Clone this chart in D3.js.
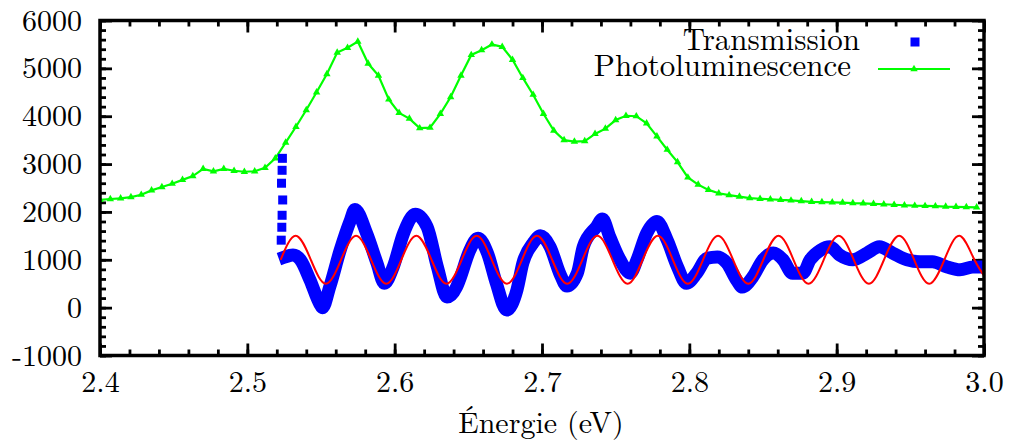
<!DOCTYPE html>
<html>
<head>
<meta charset="utf-8">
<script src="https://cdn.jsdelivr.net/npm/d3@7"></script>
<style>
  body { margin: 0; background: #fff; }
</style>
</head>
<body>
<svg id="chart" width="1011" height="443"></svg>
<script>
// photoluminescence (green), one value per marker
var plEnergy = [2.400, 2.407, 2.414, 2.421, 2.428, 2.435, 2.442, 2.449, 2.456, 2.463,
  2.470, 2.477, 2.484, 2.491, 2.498, 2.505, 2.512, 2.519, 2.526, 2.533,
  2.540, 2.547, 2.554, 2.561, 2.568, 2.575, 2.582, 2.589, 2.596, 2.603,
  2.610, 2.617, 2.624, 2.631, 2.638, 2.645, 2.652, 2.659, 2.666, 2.673,
  2.680, 2.687, 2.694, 2.701, 2.708, 2.715, 2.722, 2.729, 2.736, 2.743,
  2.750, 2.757, 2.764, 2.771, 2.778, 2.785, 2.792, 2.799, 2.806, 2.813,
  2.820, 2.827, 2.834, 2.841, 2.848, 2.855, 2.862, 2.869, 2.876, 2.883,
  2.890, 2.897, 2.904, 2.911, 2.918, 2.925, 2.932, 2.939, 2.946, 2.953,
  2.960, 2.967, 2.974, 2.981, 2.988, 2.995];
var plValue = [2250, 2270, 2285, 2310, 2360, 2450, 2520, 2590, 2670, 2750,
  2900, 2850, 2900, 2860, 2840, 2850, 2920, 3120, 3450, 3780,
  4130, 4500, 4880, 5330, 5430, 5560, 5100, 4850, 4350, 4070,
  3950, 3750, 3760, 4050, 4400, 4850, 5280, 5380, 5500, 5450,
  5180, 4800, 4450, 4050, 3700, 3500, 3470, 3480, 3630, 3740,
  3920, 4010, 4000, 3850, 3580, 3300, 3040, 2720, 2570, 2460,
  2390, 2350, 2320, 2290, 2275, 2265, 2250, 2240, 2225, 2210,
  2205, 2200, 2195, 2185, 2180, 2170, 2160, 2150, 2140, 2130,
  2125, 2120, 2110, 2105, 2100, 2095];

// transmission (blue): isolated squares at the edge, then the dense band
var transStartEnergy = [2.5238, 2.5236, 2.5232, 2.5240, 2.5236, 2.5234, 2.5230];
var transStartValue = [3120, 2870, 2600, 2250, 1930, 1680, 1410];
var transEnergy = [2.5256, 2.531, 2.536, 2.5425, 2.549, 2.551, 2.556, 2.563, 2.570, 2.573,
  2.581, 2.588, 2.593, 2.599, 2.606, 2.614, 2.622, 2.629, 2.6355, 2.642,
  2.644, 2.651, 2.6566, 2.663, 2.669, 2.676, 2.683, 2.687, 2.694, 2.699,
  2.7055, 2.712, 2.717, 2.724, 2.728, 2.737, 2.741, 2.746, 2.753, 2.760,
  2.7645, 2.771, 2.778, 2.785, 2.792, 2.798, 2.805, 2.812, 2.819, 2.8255,
  2.832, 2.836, 2.843, 2.850, 2.857, 2.8636, 2.870, 2.877, 2.882, 2.889,
  2.8955, 2.902, 2.911, 2.9206, 2.929, 2.938, 2.9477, 2.9566, 2.965, 2.975,
  2.9837, 2.9925, 2.9986];
var transValue = [1060, 1100, 1000, 580, 90, 0, 440, 1200, 1830, 2050,
  1550, 930, 510, 850, 1550, 1950, 1690, 850, 220, 430,
  580, 1200, 1450, 1140, 510, -50, 370, 930, 1350, 1500,
  1270, 720, 450, 720, 1270, 1690, 1850, 1480, 1000, 720,
  1000, 1550, 1800, 1410, 850, 510, 720, 1030, 1060, 930,
  580, 430, 640, 1000, 1140, 1000, 720, 720, 1000, 1200,
  1270, 1100, 1000, 1140, 1270, 1140, 1000, 960, 960, 850,
  790, 850, 850];

// fitted fringes (red), read at quarter periods
var fitEnergy = [2.5226, 2.5328, 2.5431, 2.5533, 2.5636, 2.5738, 2.5840, 2.5943, 2.6045, 2.6147,
  2.6250, 2.6352, 2.6455, 2.6557, 2.6659, 2.6762, 2.6864, 2.6966, 2.7069, 2.7171,
  2.7274, 2.7376, 2.7478, 2.7581, 2.7683, 2.7786, 2.7888, 2.7990, 2.8093, 2.8195,
  2.8297, 2.8400, 2.8502, 2.8605, 2.8707, 2.8809, 2.8912, 2.9014, 2.9116, 2.9219,
  2.9321, 2.9424, 2.9526, 2.9628, 2.9731, 2.9833, 2.9935, 3.0038];
var fitValue = [1000, 1500, 1000, 500, 1000, 1500, 1000, 500, 1000, 1500,
  1000, 500, 1000, 1500, 1000, 500, 1000, 1500, 1000, 500,
  1000, 1500, 1000, 500, 1000, 1500, 1000, 500, 1000, 1500,
  1000, 500, 1000, 1500, 1000, 500, 1000, 1500, 1000, 500,
  1000, 1500, 1000, 500, 1000, 1500, 1000, 500];

var xTicks = [2.4, 2.5, 2.6, 2.7, 2.8, 2.9, 3.0];
var yTicks = [-1000, 0, 1000, 2000, 3000, 4000, 5000, 6000];
var legendLabels = ["Transmission", "Photoluminescence"];
var xTitle = "Énergie (eV)";

var fontName = "Latin Modern Roman";
var pLeft = 100, pRight = 984, pTop = 20.5, pBottom = 355.5;
var svg = d3.select("#chart");

var x = d3.scaleLinear().domain([2.4, 3.0]).range([pLeft, pRight]);
var y = d3.scaleLinear().domain([-1000, 6000]).range([pBottom, pTop]);

svg.append("defs").append("clipPath").attr("id", "plot")
  .append("rect").attr("x", pLeft).attr("y", pTop)
  .attr("width", pRight - pLeft).attr("height", pBottom - pTop);

var xMinor = d3.range(2.4, 3.0001, 0.02);
var yMinor = d3.range(-1000, 6001, 200);

function styleAxis(g) {
  g.select(".domain").remove();
  g.selectAll("line").attr("stroke", "#000").attr("stroke-width", 2.8);
  g.selectAll("text").attr("fill", "#000")
    .style("font-family", fontName).style("font-size", "30px");
}

// minor ticks on all four sides
svg.append("g").attr("transform", "translate(0," + pBottom + ")")
  .call(d3.axisBottom(x).tickValues(xMinor).tickSize(-6).tickFormat("")).call(styleAxis);
svg.append("g").attr("transform", "translate(0," + pTop + ")")
  .call(d3.axisTop(x).tickValues(xMinor).tickSize(-6).tickFormat("")).call(styleAxis);
svg.append("g").attr("transform", "translate(" + pLeft + ",0)")
  .call(d3.axisLeft(y).tickValues(yMinor).tickSize(-6).tickFormat("")).call(styleAxis);
svg.append("g").attr("transform", "translate(" + pRight + ",0)")
  .call(d3.axisRight(y).tickValues(yMinor).tickSize(-6).tickFormat("")).call(styleAxis);

// major ticks + labels
svg.append("g").attr("transform", "translate(0," + pBottom + ")")
  .call(d3.axisBottom(x).tickValues(xTicks).tickSize(-12).tickPadding(15).tickFormat(d3.format(".1f")))
  .call(styleAxis);
svg.append("g").attr("transform", "translate(0," + pTop + ")")
  .call(d3.axisTop(x).tickValues(xTicks).tickSize(-12).tickFormat("")).call(styleAxis);
svg.append("g").attr("transform", "translate(" + pLeft + ",0)")
  .call(d3.axisLeft(y).tickValues(yTicks).tickSize(-12).tickPadding(18).tickFormat(function (d) { return String(d); }))
  .call(styleAxis);
svg.append("g").attr("transform", "translate(" + pRight + ",0)")
  .call(d3.axisRight(y).tickValues(yTicks).tickSize(-12).tickFormat("")).call(styleAxis);

// data
var plot = svg.append("g").attr("clip-path", "url(#plot)");

var pl = plEnergy.map(function (e, i) { return [e, plValue[i]]; });
var tr = transEnergy.map(function (e, i) { return [e, transValue[i]]; });
var trStart = transStartEnergy.map(function (e, i) { return [e, transStartValue[i]]; });
var fit = fitEnergy.map(function (e, i) { return [e, fitValue[i]]; });

function lineGen(curve) {
  return d3.line().x(function (d) { return x(d[0]); }).y(function (d) { return y(d[1]); }).curve(curve);
}

plot.append("path").datum(pl)
  .attr("d", lineGen(d3.curveLinear))
  .attr("fill", "none").attr("stroke", "#00ff00").attr("stroke-width", 2.2);
var tri = d3.symbol().type(d3.symbolTriangle).size(24);
plot.selectAll(".pl").data(pl).enter().append("path")
  .attr("d", tri)
  .attr("transform", function (d) { return "translate(" + x(d[0]) + "," + y(d[1]) + ")"; })
  .attr("fill", "#00ff00");

plot.append("path").datum(tr)
  .attr("d", lineGen(d3.curveMonotoneX))
  .attr("fill", "none").attr("stroke", "#0000ff").attr("stroke-width", 13)
  .attr("stroke-linecap", "square");
plot.selectAll(".tr").data(trStart.concat(tr)).enter().append("rect")
  .attr("x", function (d) { return x(d[0]) - 4.5; })
  .attr("y", function (d) { return y(d[1]) - 4.5; })
  .attr("width", 9).attr("height", 9)
  .attr("fill", "#0000ff");

plot.append("path").datum(fit)
  .attr("d", lineGen(d3.curveNatural))
  .attr("fill", "none").attr("stroke", "#ff0000").attr("stroke-width", 2);

// frame
svg.append("rect").attr("x", pLeft).attr("y", pTop)
  .attr("width", pRight - pLeft).attr("height", pBottom - pTop)
  .attr("fill", "none").attr("stroke", "#000").attr("stroke-width", 3.5);

// legend (gnuplot right-justifies a bit unevenly)
var legendRight = [860, 851];
var legend = svg.append("g");
legend.selectAll("text").data(legendLabels).enter().append("text")
  .attr("x", function (d, i) { return legendRight[i]; })
  .attr("y", function (d, i) { return 49.5 + i * 26.5; })
  .attr("text-anchor", "end").style("font-family", fontName).style("font-size", "31px")
  .text(function (d) { return d; });
legend.append("rect").attr("x", 910.5).attr("y", 37.5).attr("width", 9).attr("height", 9).attr("fill", "#0000ff");
legend.append("line").attr("x1", 878).attr("x2", 950).attr("y1", 69).attr("y2", 69)
  .attr("stroke", "#00ff00").attr("stroke-width", 2.2);
legend.append("path").attr("d", tri).attr("transform", "translate(914,69)").attr("fill", "#00ff00");

// axis title
svg.append("text").attr("x", 541).attr("y", 433).attr("text-anchor", "middle")
  .style("font-family", fontName).style("font-size", "30px").text(xTitle);
</script>
</body>
</html>
